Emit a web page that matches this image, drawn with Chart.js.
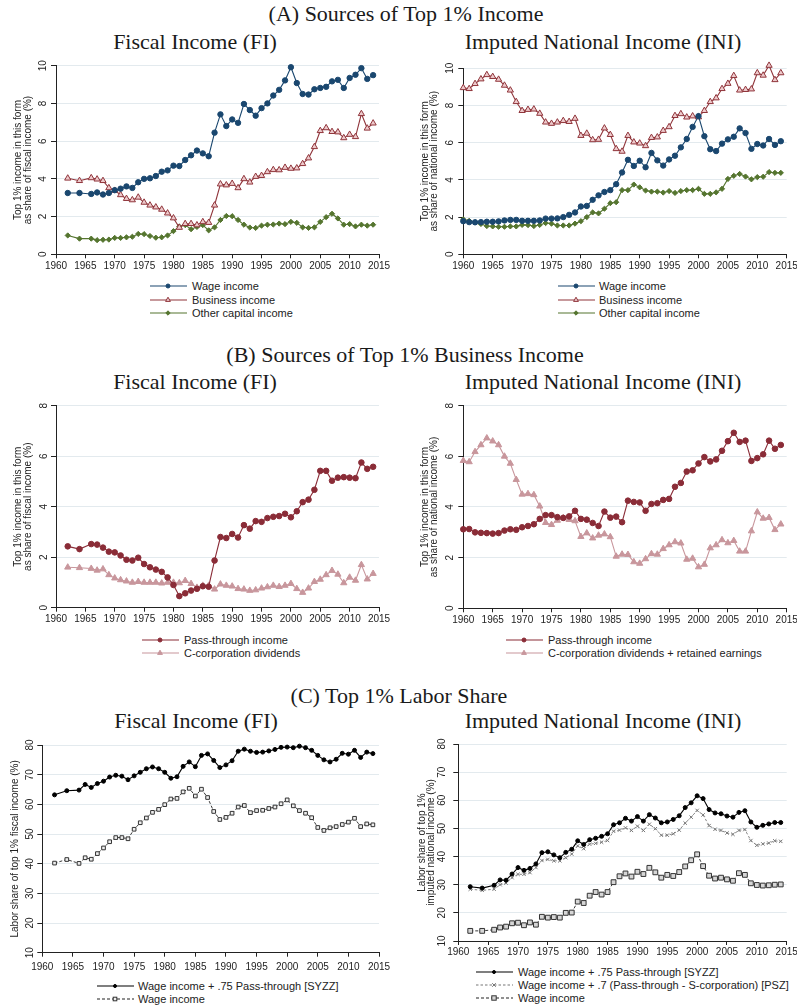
<!DOCTYPE html>
<html><head><meta charset="utf-8">
<script src="https://cdn.jsdelivr.net/npm/chart.js@4.4.1/dist/chart.umd.min.js"></script>
<style>
html,body{margin:0;padding:0;background:#fff;width:797px;height:1008px;overflow:hidden;position:relative;}
.t{position:absolute;font-family:"Liberation Serif","Times New Roman",serif;color:#1a1a1a;white-space:nowrap;transform:translate(-50%,-50%);font-size:22px;line-height:1;}
canvas{position:absolute}
.lg{position:absolute;font-family:"Liberation Sans",Arial,sans-serif;font-size:11px;color:#222;white-space:nowrap;line-height:14px}
svg{position:absolute;overflow:visible}
</style></head><body>
<div class="t" style="left:406px;top:14px">(A) Sources of Top 1% Income</div>
<div class="t" style="left:195px;top:42px">Fiscal Income (FI)</div>
<div class="t" style="left:603px;top:42px">Imputed National Income (INI)</div>
<div class="t" style="left:405px;top:355px">(B) Sources of Top 1% Business Income</div>
<div class="t" style="left:195px;top:382px">Fiscal Income (FI)</div>
<div class="t" style="left:603px;top:382px">Imputed National Income (INI)</div>
<div class="t" style="left:399px;top:696px">(C) Top 1% Labor Share</div>
<div class="t" style="left:196px;top:721px">Fiscal Income (FI)</div>
<div class="t" style="left:603px;top:721px">Imputed National Income (INI)</div>
<script>
// ---------- DATA ----------
const yearsFI = [1962,1964,1966,1967,1968,1969,1970,1971,1972,1973,1974,1975,1976,1977,1978,1979,1980,1981,1982,1983,1984,1985,1986,1987,1988,1989,1990,1991,1992,1993,1994,1995,1996,1997,1998,1999,2000,2001,2002,2003,2004,2005,2006,2007,2008,2009,2010,2011,2012,2013,2014];
const yearsINI = [1960,1961,1962,1963,1964,1965,1966,1967,1968,1969,1970,1971,1972,1973,1974,1975,1976,1977,1978,1979,1980,1981,1982,1983,1984,1985,1986,1987,1988,1989,1990,1991,1992,1993,1994,1995,1996,1997,1998,1999,2000,2001,2002,2003,2004,2005,2006,2007,2008,2009,2010,2011,2012,2013,2014];
const xTicks = [1960,1965,1970,1975,1980,1985,1990,1995,2000,2005,2010,2015];

// Panel A: FI
const wageFI = [3.25,3.25,3.2,3.28,3.17,3.25,3.4,3.48,3.6,3.52,3.82,4.0,4.03,4.15,4.38,4.45,4.7,4.68,5.0,5.25,5.5,5.35,5.2,6.45,7.42,6.8,7.15,6.97,7.97,7.65,7.35,7.75,8.0,8.42,8.72,9.22,9.92,9.08,8.5,8.47,8.75,8.82,8.88,9.17,9.25,8.82,9.35,9.52,9.87,9.3,9.5];
const businessFI = [4.03,3.9,4.05,3.98,3.9,3.52,3.38,3.15,2.95,2.88,3.02,2.75,2.6,2.5,2.38,2.18,1.92,1.42,1.62,1.62,1.55,1.72,1.68,2.6,3.72,3.67,3.75,3.52,4.0,3.82,4.12,4.17,4.37,4.48,4.47,4.6,4.55,4.57,4.8,5.1,5.7,6.55,6.7,6.5,6.48,6.17,6.35,6.23,7.45,6.68,6.95];
const otherCapFI = [1.0,0.83,0.83,0.75,0.77,0.78,0.87,0.87,0.9,0.93,1.08,1.07,0.97,0.88,0.9,1.0,1.23,1.47,1.55,1.33,1.45,1.55,1.27,1.43,1.82,2.03,2.02,1.82,1.57,1.42,1.4,1.52,1.57,1.58,1.63,1.6,1.72,1.67,1.43,1.4,1.43,1.72,1.97,2.15,1.9,1.57,1.6,1.48,1.57,1.52,1.57];
// Panel A: INI
const wageINI = [1.78,1.73,1.72,1.73,1.75,1.75,1.77,1.82,1.85,1.85,1.8,1.8,1.8,1.82,1.92,1.92,1.93,2.0,2.12,2.25,2.57,2.6,2.93,3.17,3.35,3.45,3.77,4.4,5.08,4.75,5.03,4.68,5.45,5.05,4.77,5.1,5.3,5.75,6.2,6.85,7.43,6.35,5.65,5.55,5.95,6.18,6.32,6.77,6.52,5.67,5.93,5.85,6.2,5.88,6.08];
const businessINI = [8.95,8.9,9.17,9.42,9.65,9.55,9.4,9.08,8.82,8.2,7.72,7.78,7.8,7.57,7.1,7.03,7.1,7.18,7.13,7.3,6.38,6.5,6.15,6.17,6.78,6.43,5.67,5.53,6.38,6.03,5.97,5.83,6.27,6.3,6.65,6.85,7.45,7.55,7.37,7.43,7.38,7.72,8.2,8.4,8.9,9.18,9.6,8.82,8.85,8.88,9.75,9.62,10.15,9.38,9.75];
const otherCapINI = [1.88,1.8,1.72,1.63,1.52,1.5,1.48,1.48,1.5,1.5,1.58,1.57,1.52,1.58,1.68,1.65,1.55,1.55,1.55,1.65,1.78,2.0,2.25,2.2,2.45,2.75,2.8,3.45,3.45,3.75,3.6,3.43,3.37,3.37,3.32,3.4,3.3,3.4,3.45,3.45,3.52,3.25,3.25,3.33,3.52,4.05,4.22,4.32,4.18,4.03,4.15,4.17,4.42,4.38,4.38];
// Panel B
const passFI = [2.43,2.32,2.52,2.5,2.38,2.22,2.19,2.07,1.9,1.87,1.98,1.73,1.6,1.51,1.42,1.2,0.9,0.46,0.57,0.68,0.75,0.85,0.83,1.87,2.8,2.76,2.92,2.78,3.27,3.13,3.43,3.4,3.55,3.6,3.63,3.72,3.58,3.82,4.18,4.28,4.67,5.42,5.42,5.03,5.15,5.17,5.15,5.13,5.75,5.5,5.58];
const ccorpFI = [1.6,1.58,1.55,1.48,1.53,1.3,1.17,1.1,1.05,1.0,1.03,1.0,1.0,1.0,0.97,1.0,1.0,0.98,1.07,0.95,0.8,0.88,0.88,0.73,0.93,0.88,0.85,0.75,0.73,0.68,0.7,0.77,0.82,0.88,0.83,0.88,0.95,0.75,0.6,0.77,1.03,1.12,1.3,1.47,1.32,0.98,1.2,1.08,1.7,1.13,1.35];
const passINI = [3.12,3.13,3.0,2.98,2.97,2.95,2.97,3.07,3.12,3.1,3.2,3.25,3.32,3.53,3.68,3.68,3.6,3.57,3.63,3.85,3.53,3.5,3.37,3.25,3.82,3.58,3.62,3.4,4.25,4.2,4.18,3.85,4.12,4.15,4.28,4.32,4.8,4.95,5.4,5.45,5.72,5.97,5.8,5.88,6.22,6.6,6.93,6.57,6.62,5.82,5.93,6.08,6.62,6.3,6.45];
const ccorpINI = [5.83,5.78,6.18,6.45,6.72,6.6,6.45,6.0,5.72,5.08,4.5,4.52,4.48,4.03,3.38,3.3,3.47,3.57,3.5,3.45,2.83,2.97,2.77,2.88,2.93,2.82,2.05,2.13,2.12,1.83,1.77,1.95,2.15,2.13,2.35,2.5,2.62,2.57,1.93,1.97,1.63,1.73,2.38,2.5,2.7,2.58,2.67,2.25,2.25,3.05,3.8,3.55,3.58,3.1,3.32];
// Panel C
const syzzFI = [63.2,64.6,64.8,66.7,65.7,67.0,67.8,69.2,69.8,69.5,68.3,69.6,70.8,72.0,72.6,72.0,70.8,68.8,69.3,72.8,74.3,72.7,76.5,77.0,74.8,72.4,73.3,74.7,77.9,78.6,77.9,77.5,77.6,78.0,78.5,79.2,79.3,79.1,79.6,79.1,78.2,76.5,75.0,74.3,75.2,77.2,76.9,78.2,75.8,77.6,77.1];
const wageLaborFI = [40.2,41.4,40.1,42.0,41.5,43.4,45.3,47.4,48.8,48.8,48.4,51.6,53.8,55.4,57.3,58.3,59.9,61.8,62.0,64.2,65.4,62.8,65.1,62.3,57.6,54.9,55.6,57.0,59.1,59.6,57.2,57.9,58.0,58.6,59.1,60.2,61.5,59.5,57.9,57.0,55.5,52.2,51.2,52.1,52.5,53.2,54.0,55.3,52.5,53.4,53.1];
const syzzINI = [29.3,28.8,29.8,31.7,31.6,33.8,36.1,35.1,35.8,37.4,41.4,41.7,40.6,39.6,41.5,42.6,45.6,44.3,46.0,46.5,47.2,48.1,51.3,52.0,53.6,52.6,54.2,52.6,54.9,53.7,52.0,52.3,53.2,54.5,57.4,59.1,61.6,60.6,56.7,55.5,55.2,54.4,54.0,55.7,56.3,52.3,50.4,51.1,51.6,52.1,52.1];
const pszINI = [28.4,28.0,28.4,30.0,30.6,32.5,33.7,33.7,34.3,36.1,38.6,39.0,38.5,38.5,39.6,40.9,43.8,42.8,44.4,44.7,45.1,45.7,49.0,49.4,50.2,49.3,50.8,49.3,51.5,49.9,47.6,47.6,48.1,49.4,51.9,54.0,56.4,54.8,51.0,49.7,49.3,48.4,47.9,49.3,49.6,45.7,44.0,44.5,44.8,45.6,45.4];
const wageLaborINI = [13.6,13.6,14.0,14.8,15.1,16.3,16.5,15.6,16.6,15.8,18.6,18.3,18.5,18.3,20.0,20.1,24.0,23.5,26.1,27.4,26.5,27.4,30.9,33.0,34.0,32.9,34.6,33.8,36.0,34.4,32.5,33.5,33.1,34.5,36.5,38.7,40.8,36.6,33.2,32.2,32.5,31.9,31.4,34.1,33.5,30.5,29.9,29.7,29.8,30.0,30.1];

const yTicksA = [0,2,4,6,8,10];
const yTicksB = [0,2,4,6,8];
const yTicksC = [10,20,30,40,50,60,70,80];

// ---------- STYLES ----------
const NAVY='#1a476f', MAROON='#90353b', GREEN='#55752f', PASS='#8a2c37', CCORP='#c8969c';
const SANS='"Liberation Sans", Arial, sans-serif';

function pts(xs, ys){ return xs.map((x,i)=>({x:x, y:ys[i]})); }

function ds(label, xs, ys, st){
  return Object.assign({
    label, data: pts(xs, ys), borderWidth:1.1, tension:0, clip:false,
    pointBorderWidth:1, pointHoverRadius: st.pointRadius
  }, st);
}

function makeChart(c){
  const cv = document.createElement('canvas');
  cv.width = c.cw; cv.height = c.ch;
  cv.style.left = c.cx+'px'; cv.style.top = c.cy+'px';
  cv.style.width = c.cw+'px'; cv.style.height = c.ch+'px';
  document.body.appendChild(cv);
  const yt = c.yTicks;
  new Chart(cv, {
    type:'line',
    data:{datasets:c.datasets},
    options:{
      responsive:false, animation:false, devicePixelRatio:1,
      layout:{padding:{left:0, top:c.box.t-c.cy, right:c.cx+c.cw-c.box.r, bottom:0}},
      plugins:{legend:{display:false}, tooltip:{enabled:false}},
      scales:{
        x:{type:'linear', min:1960, max:2015,
          afterBuildTicks(s){ s.ticks = xTicks.map(v=>({value:v})); },
          ticks:{callback:v=>String(v), font:{family:SANS,size:10}, color:'#222', padding:c.xPad, maxRotation:0, minRotation:0, autoSkip:false},
          grid:{drawOnChartArea:false, tickLength:4, tickColor:'#222', lineWidth:1},
          border:{color:'#222', width:1},
          afterFit(s){ s.height = c.cy+c.ch-c.box.b; s.paddingLeft=0; s.paddingRight=0; }
        },
        y:{type:'linear', min:yt[0], max:yt[yt.length-1],
          afterBuildTicks(s){ s.ticks = yt.map(v=>({value:v})); },
          ticks:{minRotation:90, maxRotation:90, crossAlign:'center', padding:c.yPad, font:{family:SANS,size:10}, color:'#222', callback:v=>String(v)},
          grid:{color:(ctx)=> (ctx.tick && ctx.tick.value===yt[0]) ? 'rgba(0,0,0,0)' : '#e3eaee', tickLength:5, tickColor:'#222', lineWidth:1},
          border:{color:'#222', width:1},
          title:{display:true, text:c.yTitle, color:'#222', font:{family:SANS, size:10, lineHeight:0.95}, padding:{top:c.tPad, bottom:0}},
          afterFit(s){ s.width = c.box.l-c.cx; s.paddingTop=0; s.paddingBottom=0; }
        }
      }
    }
  });
}

// ---------- legend (HTML/SVG keys) ----------
function markerSVG(m){
  if(!m) return '';
  const cx=18, cy=6;
  if(m.s==='circle') return `<circle cx="${cx}" cy="${cy}" r="${m.r}" fill="${m.fill}" stroke="${m.stroke}" stroke-width="1"/>`;
  if(m.s==='tri'){ const r=m.r; return `<polygon points="${cx},${cy-r} ${cx+r*0.87},${cy+r*0.5} ${cx-r*0.87},${cy+r*0.5}" fill="${m.fill}" stroke="${m.stroke}" stroke-width="1"/>`; }
  if(m.s==='diamond'){ const r=m.r; return `<polygon points="${cx},${cy-r} ${cx+r},${cy} ${cx},${cy+r} ${cx-r},${cy}" fill="${m.fill}" stroke="${m.stroke}" stroke-width="1"/>`; }
  if(m.s==='square'){ const r=m.r; return `<rect x="${cx-r}" y="${cy-r}" width="${2*r}" height="${2*r}" fill="${m.fill}" stroke="${m.stroke}" stroke-width="1"/>`; }
  if(m.s==='x'){ const r=m.r; return `<path d="M${cx-r},${cy-r}L${cx+r},${cy+r}M${cx+r},${cy-r}L${cx-r},${cy+r}" stroke="${m.stroke}" stroke-width="1"/>`; }
  return '';
}
function legend(keyX, textX, rows){
  rows.forEach(r=>{
    const sv = document.createElementNS('http://www.w3.org/2000/svg','svg');
    sv.setAttribute('width','37'); sv.setAttribute('height','12');
    sv.style.left = keyX+'px'; sv.style.top = (r.y-6)+'px';
    const dash = r.dash ? `stroke-dasharray="${r.dash}"` : '';
    sv.innerHTML = `<line x1="0" y1="6" x2="37" y2="6" stroke="${r.color}" stroke-width="1.1" ${dash}/>` + markerSVG(r.m);
    document.body.appendChild(sv);
    const d = document.createElement('div');
    d.className='lg'; d.textContent=r.label;
    d.style.left=textX+'px'; d.style.top=(r.y-7)+'px';
    document.body.appendChild(d);
  });
}

const stWage = {borderColor:NAVY, backgroundColor:NAVY, pointStyle:'circle', pointRadius:2.7, pointBorderColor:NAVY, pointBackgroundColor:NAVY};
const stBus  = {borderColor:MAROON, backgroundColor:'#edc9cb', pointStyle:'triangle', pointRadius:3.6, pointBorderColor:MAROON, pointBackgroundColor:'#edc9cb'};
const stOth  = {borderColor:GREEN, backgroundColor:GREEN, pointStyle:'rectRot', pointRadius:2.6, pointBorderColor:GREEN, pointBackgroundColor:GREEN};
const stPass = {borderColor:PASS, backgroundColor:PASS, pointStyle:'circle', pointRadius:2.8, pointBorderColor:PASS, pointBackgroundColor:PASS};
const stCC   = {borderColor:CCORP, backgroundColor:CCORP, pointStyle:'triangle', pointRadius:3.6, pointBorderColor:CCORP, pointBackgroundColor:CCORP};
const stSyzz = {borderColor:'#000', backgroundColor:'#000', pointStyle:'circle', pointRadius:2, pointBorderColor:'#000', pointBackgroundColor:'#000'};
const stPsz  = {borderColor:'#777', backgroundColor:'#777', borderDash:[2.5,2], pointStyle:'crossRot', pointRadius:2.4, pointBorderColor:'#777', pointBackgroundColor:'#777', borderWidth:0.9};

const titleA_FI = ['Top 1% income in this form','as share of fiscal income (%)'];
const titleA_INI = ['Top 1% income in this form','as share of national income (%)'];

// A left
makeChart({cx:0, cy:50, cw:400, ch:228, box:{l:56, t:65.7, r:379, b:254.3}, yTicks:yTicksA, yTitle:titleA_FI, tPad:13.5, yPad:1.9, xPad:1.5,
  datasets:[ds('Wage income', yearsFI, wageFI, stWage), ds('Business income', yearsFI, businessFI, stBus), ds('Other capital income', yearsFI, otherCapFI, stOth)]});
// A right
makeChart({cx:400, cy:50, cw:400, ch:228, box:{l:463.3, t:68.3, r:786.7, b:254.3}, yTicks:yTicksA, yTitle:titleA_INI, tPad:20.2, yPad:2.7, xPad:1.5,
  datasets:[ds('Wage income', yearsINI, wageINI, stWage), ds('Business income', yearsINI, businessINI, stBus), ds('Other capital income', yearsINI, otherCapINI, stOth)]});
// B left
makeChart({cx:0, cy:390, cw:400, ch:240, box:{l:56, t:405.7, r:379, b:607.7}, yTicks:yTicksB, yTitle:titleA_FI, tPad:13.5, yPad:3.7, xPad:1.5,
  datasets:[ds('Pass-through income', yearsFI, passFI, stPass), ds('C-corporation dividends', yearsFI, ccorpFI, stCC)]});
// B right
makeChart({cx:400, cy:390, cw:400, ch:240, box:{l:463.3, t:405.7, r:786.7, b:608.3}, yTicks:yTicksB, yTitle:titleA_INI, tPad:20.2, yPad:5.5, xPad:1.5,
  datasets:[ds('Pass-through income', yearsINI, passINI, stPass), ds('C-corporation dividends + retained earnings', yearsINI, ccorpINI, stCC)]});
// C left
makeChart({cx:0, cy:730, cw:400, ch:245, box:{l:42.3, t:745, r:379, b:952.7}, yTicks:yTicksC, yTitle:'Labor share of top 1% fiscal income (%)', tPad:10.7, yPad:1.7, xPad:4.5,
  datasets:[ds('Wage income + .75 Pass-through [SYZZ]', yearsFI, syzzFI, stSyzz),
            ds('Wage income', yearsFI, wageLaborFI, {borderColor:'#222', backgroundColor:'#ddd', borderDash:[3,2], borderWidth:0.9, pointStyle:'rect', pointRadius:2.6, pointBorderColor:'#333', pointBackgroundColor:'#eeeeee'})]});
// C right
makeChart({cx:400, cy:730, cw:400, ch:232, box:{l:458.3, t:744, r:786.7, b:941}, yTicks:yTicksC, yTitle:['Labor share of top 1%','imputed national income (%)'], tPad:17, yPad:5.0, xPad:1.5,
  datasets:[ds('Wage income + .75 Pass-through [SYZZ]', yearsFI, syzzINI, stSyzz),
            ds('Wage income + .7 (Pass-through - S-corporation) [PSZ]', yearsFI, pszINI, stPsz),
            ds('Wage income', yearsFI, wageLaborINI, {borderColor:'#222', backgroundColor:'#ccc', borderDash:[3,2], borderWidth:0.9, pointStyle:'rect', pointRadius:3.4, pointBorderColor:'#333', pointBackgroundColor:'#d6d6d6'})]});

// Legends
legend(150, 192, [
  {y:286, label:'Wage income', color:NAVY, m:{s:'circle', r:2, fill:NAVY, stroke:NAVY}},
  {y:299.5, label:'Business income', color:MAROON, m:{s:'tri', r:2.8, fill:'#edc9cb', stroke:MAROON}},
  {y:313, label:'Other capital income', color:GREEN, m:{s:'diamond', r:2.2, fill:GREEN, stroke:GREEN}}]);
legend(558, 599, [
  {y:286, label:'Wage income', color:NAVY, m:{s:'circle', r:2, fill:NAVY, stroke:NAVY}},
  {y:299.5, label:'Business income', color:MAROON, m:{s:'tri', r:2.8, fill:'#edc9cb', stroke:MAROON}},
  {y:313, label:'Other capital income', color:GREEN, m:{s:'diamond', r:2.2, fill:GREEN, stroke:GREEN}}]);
legend(142, 184, [
  {y:640, label:'Pass-through income', color:PASS, m:{s:'circle', r:2, fill:PASS, stroke:PASS}},
  {y:653.3, label:'C-corporation dividends', color:CCORP, m:{s:'tri', r:2.8, fill:CCORP, stroke:CCORP}}]);
legend(506, 548, [
  {y:640, label:'Pass-through income', color:PASS, m:{s:'circle', r:2, fill:PASS, stroke:PASS}},
  {y:653.3, label:'C-corporation dividends + retained earnings', color:CCORP, m:{s:'tri', r:2.8, fill:CCORP, stroke:CCORP}}]);
legend(97, 138, [
  {y:985.7, label:'Wage income + .75 Pass-through [SYZZ]', color:'#000', m:{s:'circle', r:1.5, fill:'#000', stroke:'#000'}},
  {y:999, label:'Wage income', color:'#222', dash:'3,2', m:{s:'square', r:1.8, fill:'#eeeeee', stroke:'#333'}}]);
legend(476, 518, [
  {y:971.7, label:'Wage income + .75 Pass-through [SYZZ]', color:'#000', m:{s:'circle', r:1.5, fill:'#000', stroke:'#000'}},
  {y:985, label:'Wage income + .7 (Pass-through - S-corporation) [PSZ]', color:'#777', dash:'2.5,2', m:{s:'x', r:1.8, stroke:'#777'}},
  {y:998, label:'Wage income', color:'#222', dash:'3,2', m:{s:'square', r:2.2, fill:'#d6d6d6', stroke:'#333'}}]);
</script>
</body></html>
